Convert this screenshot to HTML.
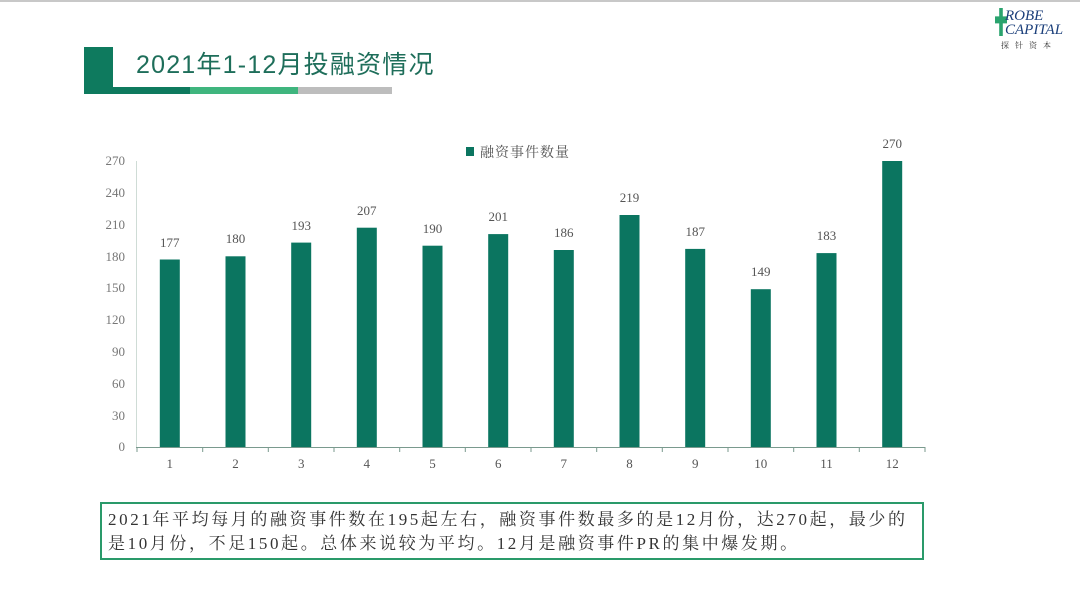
<!DOCTYPE html>
<html><head><meta charset="utf-8"><style>
body{margin:0;width:1080px;height:608px;background:#fff;overflow:hidden;position:relative;font-family:"Liberation Serif","Noto Serif CJK SC",serif}
.abs{position:absolute}
</style></head><body>
<div class="abs" style="left:0;top:0;width:1080px;height:2px;background:#c8c8c8"></div>
<div class="abs" style="left:84px;top:47px;width:29px;height:46px;background:#0e7a5e"></div>
<div class="abs" style="left:84px;top:87px;width:106px;height:7px;background:#0e7a5e"></div>
<div class="abs" style="left:190px;top:87px;width:108px;height:7px;background:#3fb57e"></div>
<div class="abs" style="left:298px;top:87px;width:94px;height:7px;background:#bdbdbd"></div>
<div class="abs" style="left:136px;top:45px;font-family:'Liberation Sans','Noto Sans CJK SC',sans-serif;font-size:25px;color:#1e6e5a;letter-spacing:1.2px">2021年1-12月投融资情况</div>
<div class="abs" style="left:995px;top:8px;width:12px;height:28px;background:#2aa36e;clip-path:polygon(35% 0,65% 0,65% 30%,100% 30%,100% 55%,65% 55%,65% 100%,35% 100%,35% 55%,0 55%,0 30%,35% 30%)"></div>
<div class="abs" style="left:1005px;top:9px;font-size:15px;font-style:italic;color:#1a3e7a;line-height:14px">ROBE<br>CAPITAL</div>
<div class="abs" style="left:1001px;top:40px;font-size:8px;color:#333;letter-spacing:6px">探针资本</div>
<svg class="abs" style="left:0;top:0" width="1080" height="608" font-family="Liberation Serif">
<g font-size="13" fill="#777" text-anchor="end">
<text x="125" y="451">0</text><text x="125" y="420">30</text><text x="125" y="388">60</text><text x="125" y="356">90</text><text x="125" y="324">120</text><text x="125" y="292">150</text><text x="125" y="261">180</text><text x="125" y="229">210</text><text x="125" y="197">240</text><text x="125" y="165">270</text>
</g>
<line x1="136.5" y1="161" x2="136.5" y2="447" stroke="#cfdcd6"/>
<g fill="#0b7560">
<rect x="159.8" y="259.5" width="20" height="187.5"/>
<rect x="225.5" y="256.3" width="20" height="190.7"/>
<rect x="291.2" y="242.6" width="20" height="204.4"/>
<rect x="356.8" y="227.7" width="20" height="219.3"/>
<rect x="422.5" y="245.7" width="20" height="201.3"/>
<rect x="488.2" y="234.1" width="20" height="212.9"/>
<rect x="553.8" y="250" width="20" height="197"/>
<rect x="619.5" y="215" width="20" height="232"/>
<rect x="685.2" y="248.9" width="20" height="198.1"/>
<rect x="750.8" y="289.2" width="20" height="157.8"/>
<rect x="816.5" y="253.1" width="20" height="193.9"/>
<rect x="882.2" y="161" width="20" height="286"/>
</g>
<g font-size="13" fill="#555" text-anchor="middle">
<text x="169.8" y="247">177</text><text x="235.5" y="243">180</text><text x="301.2" y="230">193</text><text x="366.8" y="215">207</text><text x="432.5" y="233">190</text><text x="498.2" y="221">201</text><text x="563.8" y="237">186</text><text x="629.5" y="202">219</text><text x="695.2" y="236">187</text><text x="760.8" y="276">149</text><text x="826.5" y="240">183</text><text x="892.2" y="148">270</text>
<text x="169.8" y="468">1</text><text x="235.5" y="468">2</text><text x="301.2" y="468">3</text><text x="366.8" y="468">4</text><text x="432.5" y="468">5</text><text x="498.2" y="468">6</text><text x="563.8" y="468">7</text><text x="629.5" y="468">8</text><text x="695.2" y="468">9</text><text x="760.8" y="468">10</text><text x="826.5" y="468">11</text><text x="892.2" y="468">12</text>
</g>
<line x1="136" y1="447.5" x2="925" y2="447.5" stroke="#7a9a8e"/>
<g stroke="#7a9a8e">
<line x1="137" y1="447" x2="137" y2="452"/><line x1="202.7" y1="447" x2="202.7" y2="452"/><line x1="268.3" y1="447" x2="268.3" y2="452"/><line x1="334" y1="447" x2="334" y2="452"/><line x1="399.7" y1="447" x2="399.7" y2="452"/><line x1="465.3" y1="447" x2="465.3" y2="452"/><line x1="531" y1="447" x2="531" y2="452"/><line x1="596.7" y1="447" x2="596.7" y2="452"/><line x1="662.3" y1="447" x2="662.3" y2="452"/><line x1="728" y1="447" x2="728" y2="452"/><line x1="793.7" y1="447" x2="793.7" y2="452"/><line x1="859.3" y1="447" x2="859.3" y2="452"/><line x1="925" y1="447" x2="925" y2="452"/>
</g>
<rect x="466" y="147" width="8" height="9" fill="#0b7560"/>
<text x="480" y="157" font-family="Liberation Serif,'Noto Serif CJK SC'" font-size="14" fill="#555" letter-spacing="1">融资事件数量</text>
</svg>
<div class="abs" style="left:100px;top:502px;box-sizing:border-box;width:824px;height:58px;border:2px solid #2a9a6a;padding:4px 6px;font-size:17px;line-height:24px;color:#333;letter-spacing:2.6px;white-space:nowrap">2021年平均每月的融资事件数在195起左右，融资事件数最多的是12月份，达270起，最少的<br>是10月份，不足150起。总体来说较为平均。12月是融资事件PR的集中爆发期。</div>
</body></html>
